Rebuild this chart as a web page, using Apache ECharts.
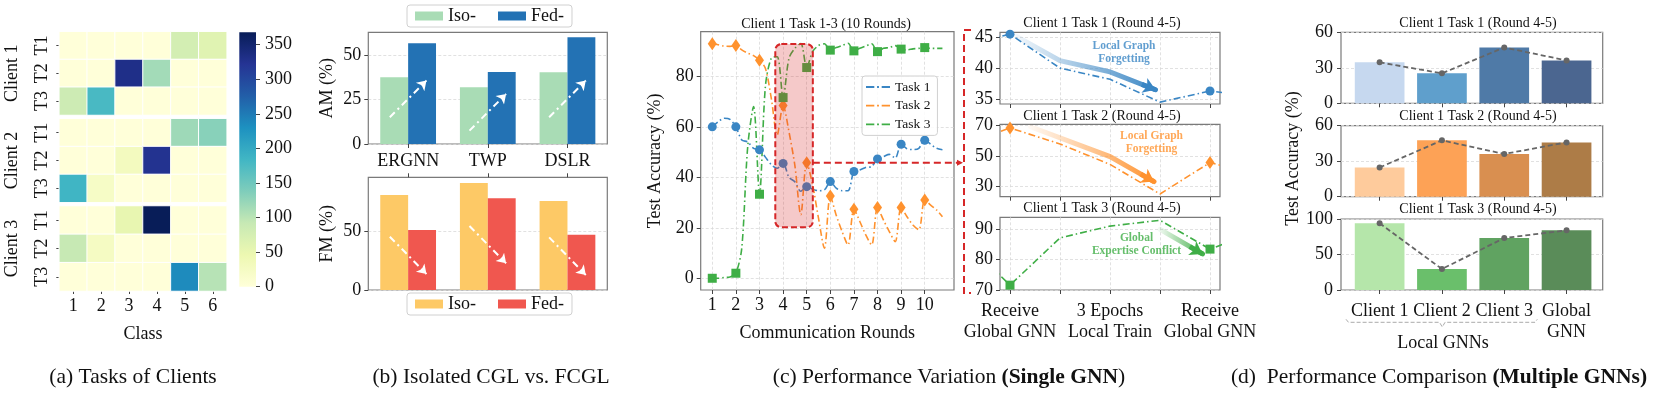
<!DOCTYPE html>
<html><head><meta charset="utf-8">
<script src="https://cdn.jsdelivr.net/npm/echarts@6/dist/echarts.min.js"></script>
<style>html,body{margin:0;padding:0;background:#fff}#c{width:1657px;height:394px}</style>
</head><body><div id="c"></div><script>
// ---------------- data ----------------
const classes = ['1','2','3','4','5','6'];
const taskRows = ['T1','T2','T3'];
const clientNames = ['Client 1','Client 2','Client 3'];
const client1Counts = [[0,0,0,0,78,62],[0,0,331,115,0,0],[85,178,0,0,0,0]];
const client2Counts = [[0,0,0,0,118,132],[0,0,30,325,0,0],[185,22,0,0,0,0]];
const client3Counts = [[0,0,52,368,0,0],[92,25,0,0,0,0],[0,0,0,0,235,102]];
const colorbarTicks = [0,50,100,150,200,250,300,350];
const countMax = 368;

const methods = ['ERGNN','TWP','DSLR'];
const amIso = [37.5, 31.8, 40.3];
const amFed = [56.6, 40.4, 59.9];
const fmIso = [81.4, 91.7, 76.3];
const fmFed = [51.4, 78.6, 47.4];
const amArrowFrom = [15.0, 7.5, 15.0];
const amArrowTo = [35.6, 28.1, 35.6];
const fmArrowFrom = [45.7, 54.9, 45.1];
const fmArrowTo = [13.7, 22.9, 12.9];
const amTicks = [0,25,50];
const fmTicks = [0,50];

const rounds = [1,2,3,4,5,6,7,8,9,10];
const roundTicksY = [0,20,40,60,80];
// each round: receive global GNN + 3 local epochs
const task1Acc = [60.0,62.0,63.4,63.0, 60.0,54.8,54.0,51.5, 50.9,48.0,45.0,43.6, 45.5,40.0,38.2,34.5,
  36.3,35.3,34.7,35.0, 38.3,35.7,34.7,34.7, 42.3,42.9,43.9,44.3, 47.3,48.2,49.1,47.6,
  53.1,51.3,51.0,51.5, 54.7,53.1,51.5,50.9];
const task2Acc = [92.9,92.5,92.0,91.9, 92.2,90.5,89.2,88.2, 86.4,83.2,71.3,56.8, 68.5,58.0,44.6,25.2,
  45.8,37.0,23.8,11.9, 32.6,25.0,18.5,13.2, 27.3,22.5,17.2,13.2, 28.0,23.1,18.5,14.5,
  28.0,24.4,21.1,19.2, 31.0,29.0,27.1,24.4];
const task3Acc = [0.0,0.0,0.3,0.5, 2.0,12.0,52.0,68.0, 33.3,76.0,87.2,87.8, 71.6,87.2,91.1,93.0,
  83.5,89.8,92.2,92.9, 90.4,91.4,92.2,93.1, 90.1,91.1,92.0,92.9, 89.8,91.1,91.4,92.2,
  90.8,90.5,90.9,91.1, 91.4,91.1,91.1,91.1];
const zoomBox = {x:[3.67,5.26], y:[20.2,92.8]};
const zoomLink = 45.8;

const stepX = [-1,0,1,2,3,4,5];
const stepTicks = [0,1,2,3,4];
const stepLabels = ['Receive\nGlobal GNN','','3 Epochs\nLocal Train','','Receive\nGlobal GNN'];
const t1Ticks = [35,40,45], t2Ticks = [30,50,70], t3Ticks = [70,80,90];
const t1Arrow = [[0.11,45.2],[1.0,41.2],[2.0,39.4],[2.91,36.5]];
const t2Arrow = [[0.41,69.3],[2.0,49.7],[2.88,33.3]];
const t3Arrow = [[3.0,90.0],[3.85,81.9]];

const gnnNames = ['Client 1','Client 2','Client 3','Global\nGNN'];
const dTask1 = [34.6, 25.3, 47.2, 36.2];
const dTask2 = [24.7, 47.6, 36.1, 45.9];
const dTask3 = [93.9, 29.6, 73.2, 84.0];
const dTicks12 = [0,30,60], dTicks3 = [0,50,100];

// ---------------- styles ----------------
const F = 'Liberation Serif';
const BLUE = '#3a86c4', ORANGE = '#ff922e', GREEN = '#3fae46';
const YLGNBU = ['#ffffd9','#edf8b1','#c7e9b4','#7fcdbb','#41b6c4','#1d91c0','#225ea8','#253494','#081d58'];
const dBlues = ['#c6d8ef','#5f9fcc','#4f7aa7','#4b6690'];
const dOranges = ['#fecb9c','#fda256','#d98f50','#ad7c47'];
const dGreens = ['#b5e6aa','#6abf6b','#60a361','#5a8c59'];

const lbl = (e) => Object.assign({fontFamily:F, fontSize:18, color:'#111'}, e||{});
const tick = (e) => Object.assign({show:true, length:4, inside:false, lineStyle:{color:'#444', width:1}}, e||{});
const split = {show:true, lineStyle:{color:'#d9d9d9', type:[3,2], width:0.8}};
const noSplit = {show:false};
const noLine = {show:false, onZero:false};
const frame = {show:true, borderColor:'#7a7a7a', borderWidth:1.2, backgroundColor:'rgba(0,0,0,0)'};
const g = (l,t,w,h,f) => Object.assign({left:l, top:t, width:w, height:h, containLabel:false, outerBoundsMode:'none'}, f ? frame : {show:false});

const grids = [
  g(59.3,31.7,167.4,83.3), g(59.3,118.7,167.4,83.6), g(59.3,206,167.4,85),
  g(239.3,32.3,16.7,254.4),
  g(368.3,32.3,239,111.7,true), g(368.3,177.3,239,112.7,true),
  g(700.7,31.7,253.3,258.3,true),
  g(1000,32.3,220,71.7,true), g(1000,124.3,220,72.4,true), g(1000,217.3,220,72.7,true),
  g(1341,32.3,261.7,71,true), g(1341,125.7,261.7,71,true), g(1341,219,261.7,71,true)
];

const valX = (gi, min, max, ticks, labelOpt, extra) => Object.assign({
  type:'value', gridIndex:gi, min, max, axisLine:noLine,
  axisTick:tick({customValues:ticks}),
  axisLabel: labelOpt ? lbl(Object.assign({customValues:ticks}, labelOpt)) : {show:false},
  splitLine: split
}, extra||{});
const valY = (gi, min, max, ticks, extra) => Object.assign({
  type:'value', gridIndex:gi, min, max, axisLine:noLine,
  axisTick:tick({customValues:ticks}),
  axisLabel: lbl({customValues:ticks, margin:7}),
  splitLine: split
}, extra||{});
const yName = (text, gap) => ({name:text, nameLocation:'middle', nameGap:gap, nameRotate:90, nameMoveOverlap:false, nameTextStyle:lbl()});

const xAxis = [
  {type:'category', data:classes, gridIndex:0, show:false},
  {type:'category', data:classes, gridIndex:1, show:false},
  {type:'category', data:classes, gridIndex:2, axisLine:noLine, axisTick:tick({alignWithLabel:true, length:3}),
   axisLabel:lbl({margin:6, interval:0}), name:'Class', nameLocation:'middle', nameGap:34, nameMoveOverlap:false, nameTextStyle:lbl()},
  {type:'category', data:[''], gridIndex:3, show:false},
  {type:'category', data:methods, gridIndex:4, axisLine:noLine, axisTick:tick({alignWithLabel:true, interval:0}), axisLabel:lbl({margin:8, interval:0})},
  {type:'category', data:methods, gridIndex:5, position:'top', axisLine:noLine, axisTick:tick({alignWithLabel:true, interval:0}), axisLabel:{show:false}},
  {type:'value', gridIndex:4, min:-0.5, max:2.5, show:false, axisLine:noLine},
  {type:'value', gridIndex:5, min:-0.5, max:2.5, show:false, axisLine:noLine},
  valX(6, 0.51, 11.24, rounds, {margin:6}, {name:'Communication Rounds', nameLocation:'middle', nameGap:34, nameMoveOverlap:false, nameTextStyle:lbl()}),
  valX(7, -0.2, 4.2, stepTicks, null),
  valX(8, -0.2, 4.2, stepTicks, null),
  Object.assign(valX(9, -0.2, 4.2, stepTicks, null), {axisLabel: lbl({customValues:[0,2,4], formatter:(v)=>stepLabels[v], lineHeight:21, margin:11})}),
  valX(10, -0.62, 3.58, [0,1,2,3], null, {splitLine:noSplit}),
  valX(11, -0.62, 3.58, [0,1,2,3], null, {splitLine:noSplit}),
  valX(12, -0.62, 3.58, [0,1,2,3], {formatter:(v)=>gnnNames[v], lineHeight:21, margin:11}, {splitLine:noSplit})
];

const heatY = (gi) => Object.assign({type:'category', data:taskRows, inverse:true, gridIndex:gi, axisLine:noLine,
  axisTick:tick({alignWithLabel:true, length:3}), axisLabel:lbl({rotate:90, margin:8, interval:0})}, yName(clientNames[gi], 38));

const yAxis = [
  heatY(0), heatY(1), heatY(2),
  {type:'value', gridIndex:3, min:0, max:countMax, position:'right', axisLine:noLine,
   axisTick:tick({customValues:colorbarTicks}), axisLabel:lbl({customValues:colorbarTicks, margin:9}), splitLine:noSplit},
  valY(4, 0, 62.7, amTicks, yName('AM (%)', 32)),
  valY(5, 0, 96.6, fmTicks, yName('FM (%)', 32)),
  valY(6, -4.65, 97.7, roundTicksY, yName('Test Accuracy (%)', 36)),
  valY(7, 34.2, 45.8, t1Ticks),
  valY(8, 23.4, 70.9, t2Ticks),
  valY(9, 70, 94, t3Ticks),
  valY(10, 0, 60, dTicks12, {axisLabel:lbl({customValues:dTicks12, margin:8})}),
  valY(11, 0, 60, dTicks12, {axisLabel:lbl({customValues:dTicks12, margin:8})}),
  valY(12, 0, 100, dTicks3, {axisLabel:lbl({customValues:dTicks3, margin:8})})
];

// ---------------- series ----------------
const series = [];
[client1Counts, client2Counts, client3Counts].forEach((counts, gi) => {
  series.push({type:'heatmap', xAxisIndex:gi, yAxisIndex:gi, silent:true,
    itemStyle:{borderColor:'#fff', borderWidth:1},
    data: counts.flatMap((row, r) => row.map((v, c) => [c, r, v]))});
});
series.push({type:'bar', xAxisIndex:3, yAxisIndex:3, barWidth:'100%', silent:true, data:[countMax],
  itemStyle:{color:new echarts.graphic.LinearGradient(0,1,0,0, YLGNBU.map((c,i)=>({offset:i/(YLGNBU.length-1), color:c})))}});

const barB = (name, xi, yi, vals, color) => ({type:'bar', name, xAxisIndex:xi, yAxisIndex:yi, data:vals,
  barGap:'0%', barCategoryGap:'30%', itemStyle:{color}, silent:true});
series.push(barB('Iso- (AM)', 4, 4, amIso, '#a9dcb5'));
series.push(barB('Fed- (AM)', 4, 4, amFed, '#2372b4'));
series.push(barB('Iso- (FM)', 5, 5, fmIso, '#fdc966'));
series.push(barB('Fed- (FM)', 5, 5, fmFed, '#f0574f'));
const arrowB = (xi, yi, from, to) => ({type:'lines', coordinateSystem:'cartesian2d', xAxisIndex:xi, yAxisIndex:yi, z:5, silent:true,
  symbol:['none','arrow'], symbolSize:9, lineStyle:{color:'#fff', width:2, type:[7,4,2,4], opacity:1},
  data: methods.map((m,i)=>({coords:[[i-0.23, from[i]],[i+0.23, to[i]]]}))});
series.push(arrowB(6, 4, amArrowFrom, amArrowTo));
series.push(arrowB(7, 5, fmArrowFrom, fmArrowTo));

const DASHDOT = [7,3,1.5,3];
const roundSeries = (name, vals, color, sym, size) => ({type:'line', name, xAxisIndex:8, yAxisIndex:6, smooth:0.3, silent:true,
  showAllSymbol:true, symbolSize:size, lineStyle:{color, width:1.6, type:DASHDOT}, itemStyle:{color},
  data: vals.map((v,i)=>({value:[1+i/4, v], symbol: i%4===0 ? sym : 'none'}))});
series.push(roundSeries('Task 1', task1Acc, BLUE, 'circle', 9));
series.push(roundSeries('Task 2', task2Acc, ORANGE, 'diamond', [9,13]));
series.push(roundSeries('Task 3', task3Acc, GREEN, 'rect', 9));

const zoomSeries = (vals, color, sym, size, k) => ({type:'line', name:'zoom'+k, xAxisIndex:9+k, yAxisIndex:7+k, silent:true,
  showAllSymbol:true, symbolSize:size, lineStyle:{color, width:1.6, type:DASHDOT}, itemStyle:{color},
  data: vals.slice(11,18).map((v,i)=>({value:[stepX[i], v], symbol:(stepX[i]===0||stepX[i]===4)?sym:'none'}))});
series.push(zoomSeries(task1Acc, BLUE, 'circle', 9, 0));
series.push(zoomSeries(task2Acc, ORANGE, 'diamond', [9,13], 1));
series.push(zoomSeries(task3Acc, GREEN, 'rect', 9, 2));

const fade = (hex) => {const n=parseInt(hex.slice(1),16); return `rgba(${n>>16},${(n>>8)&255},${n&255},0.04)`;};
const gradArrow = (path, color, k) => {
  const a = path[path.length-2], b = path[path.length-1];
  const s = [a[0]+(b[0]-a[0])*0.7, a[1]+(b[1]-a[1])*0.7];
  return [
    {type:'lines', coordinateSystem:'cartesian2d', polyline:true, xAxisIndex:9+k, yAxisIndex:7+k, silent:true, z:4,
     lineStyle:{width:5, opacity:1, cap:'round', color:new echarts.graphic.LinearGradient(0,0,1,0,[{offset:0,color:fade(color)},{offset:1,color}])},
     data:[{coords:path}]},
    {type:'lines', coordinateSystem:'cartesian2d', xAxisIndex:9+k, yAxisIndex:7+k, silent:true, z:4,
     symbol:['none','arrow'], symbolSize:[11,12], lineStyle:{width:5, opacity:1, color}, data:[{coords:[s,b]}]}
  ];
};
series.push(...gradArrow(t1Arrow, BLUE, 0));
series.push(...gradArrow(t2Arrow, ORANGE, 1));
series.push(...gradArrow(t3Arrow, GREEN, 2));
const note = (k, pos, text, color) => ({type:'scatter', xAxisIndex:9+k, yAxisIndex:7+k, silent:true, z:6, symbolSize:1,
  itemStyle:{color:'rgba(0,0,0,0)'}, data:[pos],
  label:{show:true, position:'inside', formatter:text, color, fontFamily:F, fontWeight:'bold', fontSize:11.5, lineHeight:13}});
series.push(note(0, [2.28,42.5], 'Local Graph\nForgetting', BLUE));
series.push(note(1, [2.83,58.9], 'Local Graph\nForgetting', ORANGE));
series.push(note(2, [2.53,85.0], 'Global\nExpertise Conflict', GREEN));

[[dTask1, dBlues], [dTask2, dOranges], [dTask3, dGreens]].forEach(([vals, colors], k) => {
  series.push({type:'bar', xAxisIndex:12+k, yAxisIndex:10+k, barWidth:49.7, silent:true,
    data: vals.map((v,i)=>({value:[i, v], itemStyle:{color:colors[i]}}))});
  series.push({type:'line', xAxisIndex:12+k, yAxisIndex:10+k, silent:true, z:5, symbol:'circle', symbolSize:6,
    lineStyle:{color:'#666', width:1.8, type:[5,3]}, itemStyle:{color:'#666'},
    data: vals.map((v,i)=>[i, v])});
});

const legendBase = {icon:'rect', itemWidth:28, itemHeight:9, itemGap:22, formatter:(n)=>n.split(' ')[0], textStyle:lbl(),
  borderColor:'#d0d0d0', borderWidth:1, borderRadius:3, padding:[2,8,2,8], backgroundColor:'#fff', selectedMode:false};

const option = {
  animation:false,
  visualMap:{type:'continuous', show:false, min:0, max:countMax, seriesIndex:[0,1,2], inRange:{color:YLGNBU}},
  grid: grids, xAxis, yAxis, series,
  legend:[
    Object.assign({}, legendBase, {data:['Iso- (AM)','Fed- (AM)'], left:407, top:5}),
    Object.assign({}, legendBase, {data:['Iso- (FM)','Fed- (FM)'], left:407, top:293}),
    {data:['Task 1','Task 2','Task 3'], orient:'vertical', left:862, top:76, selectedMode:false,
     icon:'path://M0,0H9V2H0Z M12,0H14V2H12Z M17,0H26V2H17Z', itemWidth:24, itemHeight:2.5, itemGap:4.7,
     textStyle:{fontFamily:F, fontSize:13.5, color:'#111'}, borderColor:'#d0d0d0', borderWidth:1, borderRadius:3,
     padding:[4,7,4,4], backgroundColor:'rgba(255,255,255,0.85)'}
  ]
};

const chart = echarts.init(document.getElementById('c'), null, {renderer:'canvas', width:1657, height:394});
chart.setOption(option);

// ---------------- annotations ----------------
const tl = chart.convertToPixel({xAxisIndex:8, yAxisIndex:6}, [zoomBox.x[0], zoomBox.y[1]]);
const br = chart.convertToPixel({xAxisIndex:8, yAxisIndex:6}, [zoomBox.x[1], zoomBox.y[0]]);
const lk = chart.convertToPixel({xAxisIndex:8, yAxisIndex:6}, [zoomBox.x[1], zoomLink]);
const RED = '#d62728';
const txt = (x, y, text, size, extra) => Object.assign({type:'text', x, y, silent:true, z:20,
  style:Object.assign({text, font:`${size}px "${F}"`, fontFamily:F, fontSize:size, fill:'#111', align:'center', verticalAlign:'middle'}, extra||{})});
const boldRich = (size) => ({rich:{b:{font:`bold ${size}px "${F}"`, fontFamily:F, fontSize:size, fontWeight:'bold', fill:'#111'}}});
const graphics = [
  {type:'rect', silent:true, z:10, shape:{x:tl[0], y:tl[1], width:br[0]-tl[0], height:br[1]-tl[1], r:6},
   style:{fill:'rgba(214,39,40,0.25)', stroke:RED, lineWidth:2, lineDash:[6,3]}},
  {type:'line', silent:true, z:10, shape:{x1:br[0], y1:lk[1], x2:958, y2:lk[1]}, style:{stroke:RED, lineWidth:2, lineDash:[7,4]}},
  {type:'polygon', silent:true, z:10, shape:{points:[[957,lk[1]-3],[963,lk[1]],[957,lk[1]+3]]}, style:{fill:RED}},
  {type:'polyline', silent:true, z:10, shape:{points:[[971,30],[964,30],[964,293],[971,293]]}, style:{stroke:RED, lineWidth:2, lineDash:[7,4], fill:null}},
  {type:'polyline', silent:true, z:10, shape:{points:[[1346,319.3],[1348.5,322.3],[1439.5,322.3],[1442.3,327],[1445,322.3],[1535,322.3],[1537.3,319.3]]},
   style:{stroke:'#aaa', lineWidth:1, lineDash:[4,2], fill:null}},
  txt(1443, 343.3, 'Local GNNs', 18),
  txt(1293.3, 158.5, 'Test Accuracy (%)', 18),
  txt(826, 24, 'Client 1 Task 1-3 (10 Rounds)', 14),
  txt(1102, 23.3, 'Client 1 Task 1 (Round 4-5)', 14),
  txt(1102, 116, 'Client 1 Task 2 (Round 4-5)', 14),
  txt(1102, 208.3, 'Client 1 Task 3 (Round 4-5)', 14),
  txt(1478, 23.3, 'Client 1 Task 1 (Round 4-5)', 14),
  txt(1478, 116, 'Client 1 Task 2 (Round 4-5)', 14),
  txt(1478, 209.3, 'Client 1 Task 3 (Round 4-5)', 14),
  txt(133, 377.3, '(a) Tasks of Clients', 21.5),
  txt(491, 377.3, '(b) Isolated CGL vs. FCGL', 21.5),
  txt(949, 377.3, '(c) Performance Variation {b|(Single GNN})', 21.5, boldRich(21.5)),
  txt(1439, 377.3, '(d)  Performance Comparison {b|(Multiple GNNs)}', 21.5, boldRich(21.5))
];
graphics[6].rotation = Math.PI/2;
chart.setOption({graphic: graphics});
</script></body></html>
